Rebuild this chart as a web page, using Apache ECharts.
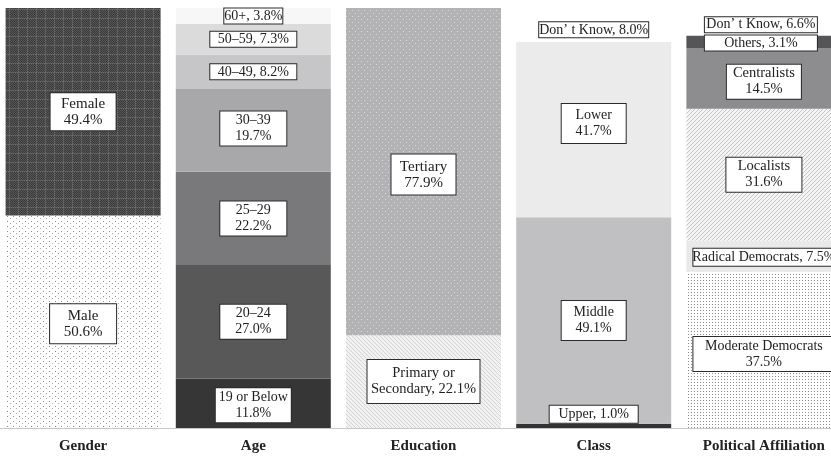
<!DOCTYPE html>
<html><head><meta charset="utf-8">
<script src="https://cdn.jsdelivr.net/npm/echarts@6/dist/echarts.min.js"></script>
<style>html,body{margin:0;padding:0;background:#fff}#c{width:831px;height:462px}</style>
</head><body><div id="c"></div>
<script>
// ---------- DATA (bottom segment first) ----------
const categories = ['Gender', 'Age', 'Education', 'Class', 'Political Affiliation'];
const genderNames = ['Male', 'Female'];
const genderValues = [50.6, 49.4];
const ageNames = ['19 or Below', '20–24', '25–29', '30–39', '40–49', '50–59', '60+'];
const ageValues = [11.8, 27.0, 22.2, 19.7, 8.2, 7.3, 3.8];
const educationNames = ['Primary or\nSecondary', 'Tertiary'];
const educationValues = [22.1, 77.9];
const classNames = ['Upper', 'Middle', 'Lower', 'Don\u2019 t Know'];
const classValues = [1.0, 49.1, 41.7, 8.0];
const politicalNames = ['Moderate Democrats', 'Radical Democrats', 'Localists', 'Centralists', 'Others', 'Don\u2019 t Know'];
const politicalValues = [37.5, 7.5, 31.6, 14.5, 3.1, 6.6];

// ---------- PATTERNS ----------
function tile(w, h, bg, draw) {
  const c = document.createElement('canvas');
  c.width = w; c.height = h;
  const g = c.getContext('2d');
  g.fillStyle = bg; g.fillRect(0, 0, w, h);
  if (draw) draw((x, y, col) => { g.fillStyle = col; g.fillRect(x, y, 1, 1); }, w, h);
  return { image: c, repeat: 'repeat' };
}
const P = {
  female: tile(9, 9, '#484848', (px, w, h) => {
    for (let x = 0; x < w; x++) for (let y = 0; y < h; y++) px(x, y, (x + y) % 2 ? '#545454' : '#3c3c3c');
    for (let x = 0; x < w; x += 2) px(x, 0, '#6c6c6c');
    for (let y = 0; y < h; y += 2) px(0, y, '#6c6c6c');
  }),
  male: tile(6, 5, '#ffffff', (px) => { px(1, 1, '#8e8e8e'); px(4, 3, '#a8a8a8'); }),
  tertiary: tile(6, 6, '#b3b3b6', (px) => { px(1, 1, '#d8d8da'); px(4, 4, '#d8d8da'); }),
  primary: tile(4, 4, '#f1f1f1', (px) => { for (let i = 0; i < 4; i++) px(i, i, '#d4d4d4'); }),
  localists: tile(4, 4, '#f4f4f4', (px) => { for (let i = 0; i < 4; i++) px(i, 3 - i, '#c6c6c6'); }),
  moderate: tile(3, 3, '#ffffff', (px) => { px(1, 1, '#8e8e8e'); })
};

// ---------- STYLE per segment (bottom first) ----------
const styles = [
  [ {fill: P.male, sep: '\n', w: 68, h: 41, dy: 2, fs: 15}, {fill: P.female, sep: '\n', w: 67, h: 39, dy: 0, fs: 15} ],
  [ {fill: '#363636', sep: '\n', w: 77, h: 36, dy: 2, fs: 14},
    {fill: '#585858', sep: '\n', w: 68, h: 36, dy: 0, fs: 14},
    {fill: '#79797b', sep: '\n', w: 68, h: 36, dy: 0, fs: 14},
    {fill: '#a8a8aa', sep: '\n', w: 68, h: 36, dy: -2, fs: 14},
    {fill: '#c6c6c8', sep: ', ', w: 88, h: 17, dy: 0, fs: 14},
    {fill: '#dbdbdc', sep: ', ', w: 88, h: 17, dy: 0, fs: 14},
    {fill: '#f7f7f7', sep: ', ', w: 60, h: 16, dy: 0, fs: 14} ],
  [ {fill: P.primary, sep: ', ', w: 114, h: 45, dy: 0, fs: 14.5}, {fill: P.tertiary, sep: '\n', w: 66, h: 42, dy: 3, fs: 15} ],
  [ {fill: '#333333', sep: ', ', w: 90, h: 19, pos: 'top', fs: 14},
    {fill: '#c0c0c3', sep: '\n', w: 66, h: 41, dy: 0, fs: 14},
    {fill: '#ebebec', sep: '\n', w: 66, h: 41, dy: -6, fs: 14},
    {fill: '#ffffff', sep: ', ', w: 111, h: 16, dy: 5, fs: 14} ],
  [ {fill: P.moderate, sep: '\n', w: 143, h: 36, dy: 4, fs: 14},
    {fill: '#e9e9e9', sep: ', ', w: 143, h: 19, dy: 1, fs: 14},
    {fill: P.localists, sep: '\n', w: 77, h: 36, dy: 0, fs: 14.5},
    {fill: '#8d8d8f', sep: '\n', w: 76, h: 36, dy: 3, fs: 14.5},
    {fill: '#555557', sep: ', ', w: 114, h: 16, dy: 1, dx: -3, fs: 14},
    {fill: '#ffffff', sep: ', ', w: 114, h: 16, dy: 3, dx: -3, fs: 14} ]
];

const names = [genderNames, ageNames, educationNames, classNames, politicalNames];
const values = [genderValues, ageValues, educationValues, classValues, politicalValues];

const FONT = '"Liberation Serif", "DejaVu Serif", serif';
const maxSeg = Math.max(...values.map(v => v.length));
const series = [];
for (let k = 0; k < maxSeg; k++) {
  const data = categories.map((c, ci) => {
    const vals = values[ci];
    if (k >= vals.length) return '-';
    const total = vals.reduce((a, b) => a + b, 0);
    const st = styles[ci][k];
    const text = names[ci][k] + st.sep + vals[k].toFixed(1) + '%';
    const lines = text.split('\n').length;
    const lh = lines > 1 ? 16 : 15;
    const padX = 3;
    const padY = Math.max(0, (st.h - 2 - lines * lh) / 2);
    return {
      value: vals[k] / total * 100,
      itemStyle: { color: st.fill },
      label: {
        show: true,
        formatter: text,
        position: st.pos || 'inside',
        distance: 1,
        offset: [st.dx || 0, st.dy || 0],
        width: st.w - 2 * padX - 2,
        align: 'center',
        backgroundColor: '#ffffff',
        borderColor: '#2a2a2a',
        borderWidth: 1,
        padding: [padY, padX],
        lineHeight: lh,
        fontFamily: FONT,
        fontSize: st.fs,
        color: '#222222'
      }
    };
  });
  series.push({
    type: 'bar', stack: 'all', barWidth: 155, silent: true,
    data: data
  });
}

const chart = echarts.init(document.getElementById('c'), null, { renderer: 'canvas' });
chart.setOption({
  animation: false,
  backgroundColor: '#ffffff',
  grid: { left: -2, top: 8, width: 851, height: 420, containLabel: false, outerBoundsMode: 'none' },
  xAxis: {
    type: 'category', data: categories,
    axisTick: { show: false },
    axisLine: { show: true, lineStyle: { color: '#c8c8c8', width: 1 } },
    axisLabel: { interval: 0, margin: 11, fontFamily: FONT, fontSize: 15, fontWeight: 'bold', color: '#222222' }
  },
  yAxis: { type: 'value', min: 0, max: 100, show: false },
  series: series
});
</script>
</body></html>
